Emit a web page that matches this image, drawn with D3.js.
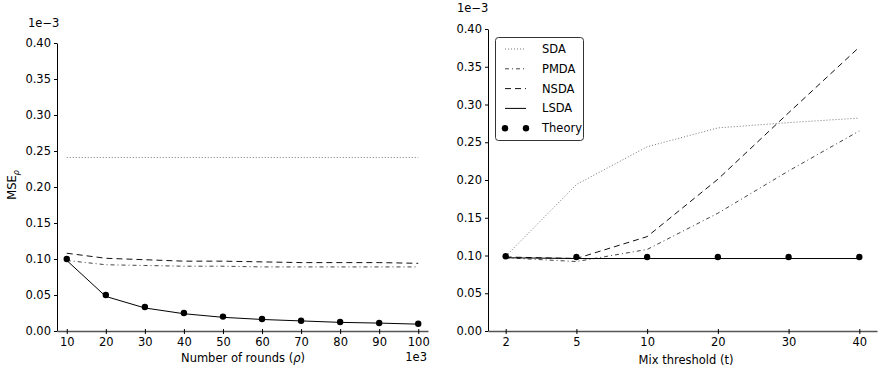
<!DOCTYPE html>
<html>
<head>
<meta charset="utf-8">
<script src="https://cdn.jsdelivr.net/npm/d3@7"></script>
<style>
  body { margin: 0; background: #fff; }
  svg text { font-family: "DejaVu Sans", sans-serif; fill: #000; }
</style>
</head>
<body>
<svg id="chart" width="883" height="374"></svg>
<script>
// left panel: number of rounds (x1e3)
var rounds = [10, 20, 30, 40, 50, 60, 70, 80, 90, 100];
var roundsSDA = [0.241, 0.241, 0.241, 0.241, 0.241, 0.241, 0.241, 0.241, 0.241, 0.241];
var roundsPMDA = [0.098, 0.092, 0.091, 0.090, 0.090, 0.089, 0.089, 0.089, 0.089, 0.089];
var roundsNSDA = [0.108, 0.101, 0.099, 0.097, 0.097, 0.096, 0.095, 0.095, 0.095, 0.094];
var roundsLSDA = [0.098, 0.048, 0.032, 0.024, 0.019, 0.016, 0.014, 0.012, 0.011, 0.0095];
var roundsTheory = [0.100, 0.050, 0.0333, 0.025, 0.020, 0.0167, 0.0143, 0.0125, 0.0111, 0.010];

// right panel: mix threshold
var thresholds = ["2", "5", "10", "20", "30", "40"];
var mixSDA = [0.099, 0.194, 0.244, 0.269, 0.276, 0.282];
var mixPMDA = [0.097, 0.092, 0.108, 0.156, 0.212, 0.265];
var mixNSDA = [0.098, 0.096, 0.125, 0.201, 0.289, 0.376];
var mixLSDA = [0.097, 0.096, 0.096, 0.096, 0.096, 0.096];
var mixTheory = [0.099, 0.098, 0.098, 0.098, 0.098, 0.098];

var yTicks = [0, 0.05, 0.10, 0.15, 0.20, 0.25, 0.30, 0.35, 0.40];

var styles = {
    SDA: { stroke: "#777", dash: "1,2" },
    PMDA: { stroke: "#444", dash: "4,3,1,3" },
    NSDA: { stroke: "#111", dash: "6,4" },
    LSDA: { stroke: "#000", dash: null }
};

var svg = d3.select("#chart");

function panel(cfg) {
    var x = d3.scalePoint()
        .domain(cfg.cats)
        .range([cfg.left, cfg.right])
        .padding(0.25);
    var y = d3.scaleLinear()
        .domain([0, 0.4])
        .range([cfg.bottom, cfg.top]);

    var g = svg.append("g");

    // axes
    g.append("g")
        .attr("transform", `translate(${cfg.left},0)`)
        .call(d3.axisLeft(y).tickValues(yTicks).tickFormat(d3.format(".2f")).tickSize(3).tickPadding(3).tickSizeOuter(0))
        .call(a => a.select(".domain").attr("stroke", "#000"))
        .call(a => a.selectAll("text").attr("font-size", 11.5).attr("font-family", "DejaVu Sans"));

    g.append("g")
        .attr("transform", `translate(0,${cfg.bottom})`)
        .call(d3.axisBottom(x).tickSize(3).tickPadding(4).tickSizeOuter(0))
        .call(a => a.select(".domain").attr("stroke", "#555").attr("stroke-width", 1.6))
        .call(a => a.selectAll(".tick line").attr("y1", -2))
        .call(a => a.selectAll("text").attr("font-size", 11.5).attr("font-family", "DejaVu Sans"));

    var line = d3.line()
        .x((d, i) => x(cfg.cats[i]))
        .y(d => y(d));

    ["SDA", "PMDA", "NSDA", "LSDA"].forEach(function(k) {
        g.append("path")
            .datum(cfg.series[k])
            .attr("d", line)
            .attr("fill", "none")
            .attr("stroke", styles[k].stroke)
            .attr("stroke-width", 1)
            .attr("stroke-dasharray", styles[k].dash);
    });

    g.append("g")
        .selectAll("circle")
        .data(cfg.series.Theory)
        .join("circle")
        .attr("cx", (d, i) => x(cfg.cats[i]))
        .attr("cy", d => y(d))
        .attr("r", 3.2)
        .attr("fill", "#000");

    return { g: g, x: x, y: y };
}

var left = panel({
    cats: rounds, left: 57, right: 428, top: 43, bottom: 331,
    series: { SDA: roundsSDA, PMDA: roundsPMDA, NSDA: roundsNSDA, LSDA: roundsLSDA, Theory: roundsTheory }
});

var right = panel({
    cats: thresholds, left: 488, right: 877, top: 29, bottom: 331,
    series: { SDA: mixSDA, PMDA: mixPMDA, NSDA: mixNSDA, LSDA: mixLSDA, Theory: mixTheory }
});

// offset / axis labels
svg.append("text").attr("x", 28).attr("y", 27).attr("font-size", 11.5).text("1e\u22123");
svg.append("text").attr("x", 457).attr("y", 12).attr("font-size", 11.5).text("1e\u22123");
svg.append("text").attr("x", 427).attr("y", 361).attr("font-size", 11.5).attr("text-anchor", "end").text("1e3");

var xl = svg.append("text").attr("x", 243).attr("y", 362).attr("font-size", 11.5).attr("text-anchor", "middle");
xl.append("tspan").text("Number of rounds (");
xl.append("tspan").attr("font-style", "italic").text("\u03c1");
xl.append("tspan").text(")");

svg.append("text").attr("x", 686).attr("y", 364).attr("font-size", 11.5).attr("text-anchor", "middle").text("Mix threshold (t)");

var yl = svg.append("text")
    .attr("transform", "translate(16,185) rotate(-90)")
    .attr("font-size", 11.5)
    .attr("text-anchor", "middle");
yl.append("tspan").text("MSE");
yl.append("tspan").attr("font-size", 8).attr("font-style", "italic").attr("dy", 3).text("\u03c1");

// legend
var lg = svg.append("g");
lg.append("rect")
    .attr("x", 495.5).attr("y", 37.5).attr("width", 88).attr("height", 103)
    .attr("rx", 3).attr("fill", "#fff").attr("stroke", "#333").attr("stroke-width", 1);

var legendKeys = ["SDA", "PMDA", "NSDA", "LSDA", "Theory"];
legendKeys.forEach(function(k, i) {
    var ly = 49 + i * 19.8;
    if (k === "Theory") {
        [505, 526].forEach(function(cx) {
            lg.append("circle").attr("cx", cx).attr("cy", ly).attr("r", 3.2).attr("fill", "#000");
        });
    } else {
        lg.append("line")
            .attr("x1", 505).attr("x2", 526).attr("y1", ly).attr("y2", ly)
            .attr("stroke", styles[k].stroke)
            .attr("stroke-dasharray", styles[k].dash);
    }
    lg.append("text").attr("x", 542).attr("y", ly + 4).attr("font-size", 11.5).text(k);
});
</script>
</body>
</html>
